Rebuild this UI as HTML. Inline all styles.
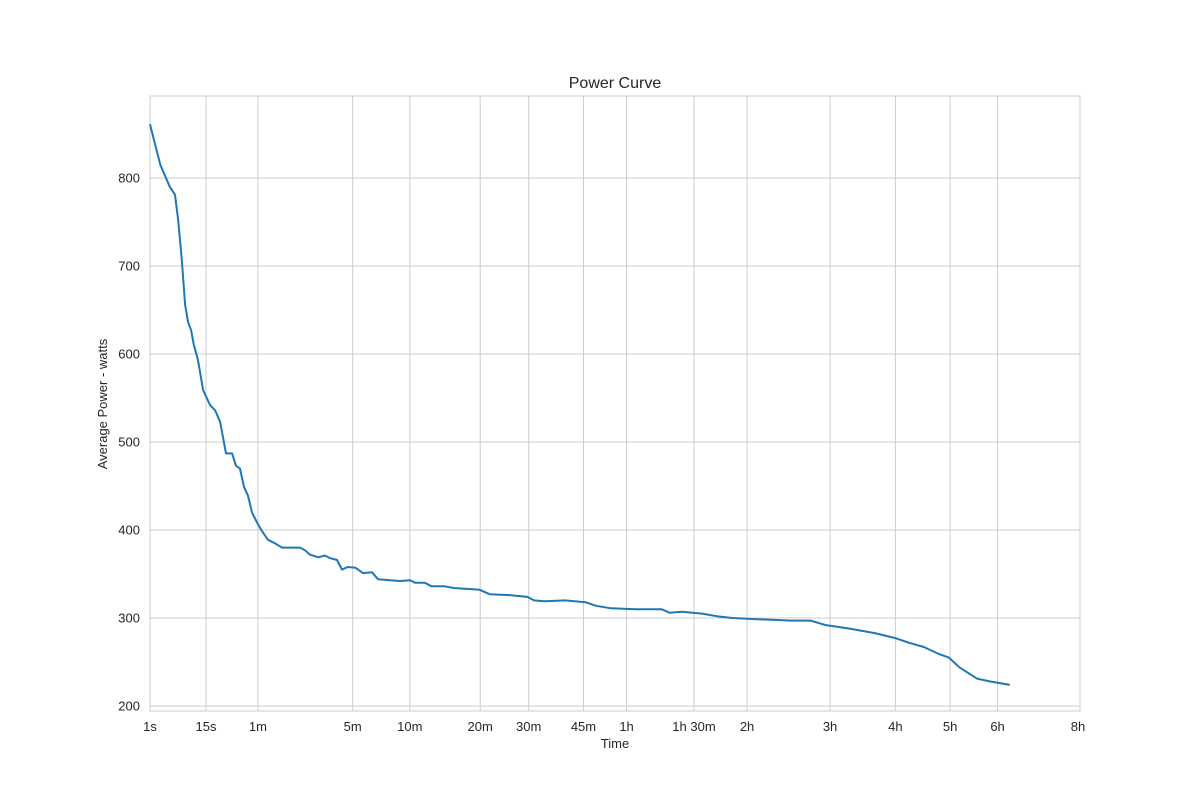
<!DOCTYPE html>
<html><head><meta charset="utf-8">
<style>
body{margin:0;background:#fff;}
svg text{font-family:"Liberation Sans",sans-serif;fill:#262626;}
</style></head>
<body>
<svg id="chart" width="1200" height="800"></svg>
<script>
const times=[1,2,3.4,4.4,5.1,6,6.9,7.8,8.8,9.8,11.4,13.6,17.1,20,23.2,27.4,32.3,35.8,39.5,43.6,48,52.6,58.5,65.3,74,85,98,113,135,147,159,182,202,218,241,259,281,312,344,385,416,479,538,601,635,704,756,860,947,1090,1194,1304,1543,1780,1877,2033,2370,2737,2936,3250,3828,4470,4690,5035,5650,6130,6660,7300,8150,8970,9860,10560,11800,13150,14420,15200,16200,17230,17920,18660,20000,20970,21780,22600];
const watts=[861,815,790,781,752,707,656,636,627,610,593,559,542,536,523,487,487,473,470,449,439,420,409,399,389,385,380,380,380,377,372,369,371,368,366,355,358,357,351,352,344,343,342,343,340,340,336,336,334,333,332,327,326,324,320,319,320,318,314,311,310,310,306,307,305,302,300,299,298,297,297,292,288,283,277,272,267,259,255,244,231,228,226,224];
const xTickVals=[1,15,60,300,600,1200,1800,2700,3600,5400,7200,10800,14400,18000,21600,28800];
const xTickLabels=["1s","15s","1m","5m","10m","20m","30m","45m","1h","1h 30m","2h","3h","4h","5h","6h","8h"];
const yTickVals=[200,300,400,500,600,700,800];
const NS="http://www.w3.org/2000/svg";
const svg=document.getElementById('chart');
const L=150,R=1080,T=96,B=711;
const p=0.3, tMax=28800;
function xs(t){return L+928*(Math.pow(t,p)-1)/(Math.pow(tMax,p)-1);}
function ys(v){return 178+(800-v)*0.88;}
function el(tag,attrs,txt){const e=document.createElementNS(NS,tag);for(const k in attrs)e.setAttribute(k,attrs[k]);if(txt!==undefined)e.textContent=txt;svg.appendChild(e);return e;}
let e;
e=el('rect',{x:L,y:T,width:R-L,height:B-T,fill:'#fff',stroke:'#cccccc','stroke-width':1});


xTickVals.forEach((t,i)=>{
  const x=xs(t);
  if(i<xTickVals.length-1){
    e=el('line',{x1:x,x2:x,y1:T,y2:B,stroke:'#cccccc','stroke-width':1});
    
    
  }
  e=el('text',{x:x,y:731,'font-size':13,'text-anchor':'middle'},xTickLabels[i]);
  
  
});
yTickVals.forEach(v=>{
  const y=ys(v);
  e=el('line',{x1:L,x2:R,y1:y,y2:y,stroke:'#cccccc','stroke-width':1});
  
  
  e=el('text',{x:140,y:y+4.5,'font-size':13,'text-anchor':'end'},String(v));
  
  
});
const d=times.map((t,i)=>(i?'L':'M')+xs(t).toFixed(1)+','+ys(watts[i]).toFixed(1)).join(' ');
e=el('path',{d:d,fill:'none',stroke:'#1f77b4','stroke-width':2,'stroke-linejoin':'round'});


e=el('text',{x:615,y:88,'font-size':16,'text-anchor':'middle'},'Power Curve');


e=el('text',{x:615,y:748,'font-size':13,'text-anchor':'middle'},'Time');


e=el('text',{x:107,y:404,'font-size':13,'text-anchor':'middle',transform:'rotate(-90 107 404)'},'Average Power - watts');


</script>
</body></html>
